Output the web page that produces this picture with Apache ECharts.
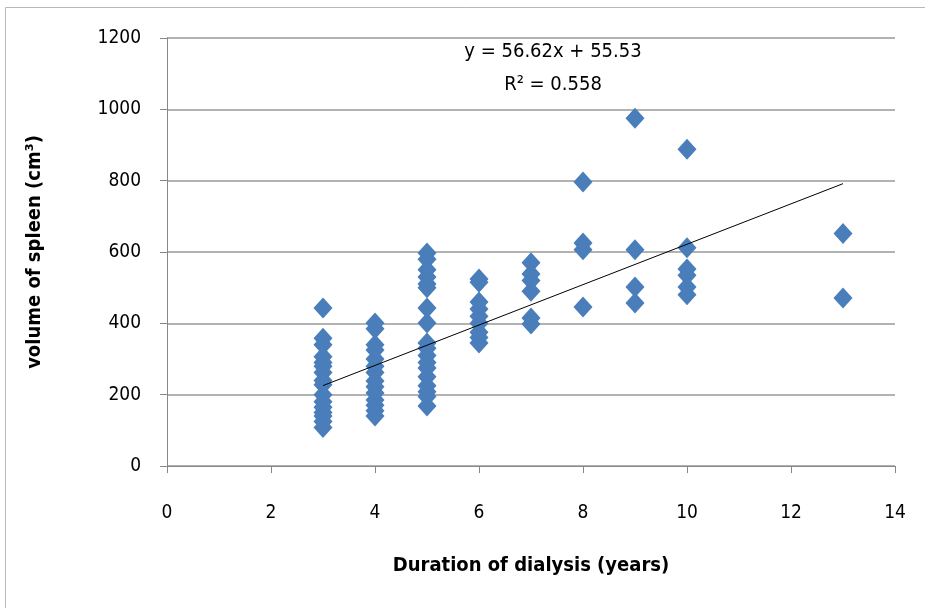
<!DOCTYPE html>
<html>
<head>
<meta charset="utf-8">
<script src="https://cdn.jsdelivr.net/npm/echarts@6/dist/echarts.min.js"></script>
<style>html,body{margin:0;padding:0;background:#fff;}#c{width:925px;height:608px;}</style>
</head>
<body>
<div id="c"></div>
<script>
// Duration of dialysis (years) and spleen volumes (cm³)
var durations = [3, 4, 5, 6, 7, 8, 9, 10, 13];
var volAt3  = [443, 358, 340, 306, 290, 280, 262, 240, 228, 200, 180, 165, 150, 140, 125, 108];
var volAt4  = [401, 385, 340, 325, 300, 280, 262, 238, 222, 205, 185, 170, 155, 140];
var volAt5  = [597, 580, 550, 530, 510, 500, 443, 401, 345, 330, 310, 290, 275, 250, 225, 208, 195, 168];
var volAt6  = [524, 515, 460, 440, 420, 400, 375, 360, 345];
var volAt7  = [570, 538, 520, 490, 415, 398];
var volAt8  = [796, 625, 606, 446];
var volAt9  = [975, 606, 502, 457];
var volAt10 = [888, 612, 552, 535, 502, 480];
var volAt13 = [652, 471];
var volumes = [volAt3, volAt4, volAt5, volAt6, volAt7, volAt8, volAt9, volAt10, volAt13];

// Trend line (from the chart's equation)
var slope = 56.62, intercept = 55.53, rSquared = 0.558;
var xTicks = [0, 2, 4, 6, 8, 10, 12, 14];
var yTicks = [0, 200, 400, 600, 800, 1000, 1200];

var points = [];
durations.forEach(function (d, i) {
  volumes[i].forEach(function (v) { points.push([d, v]); });
});
var xMin = Math.min.apply(null, durations), xMax = Math.max.apply(null, durations);
var trend = [[xMin, slope * xMin + intercept], [xMax, slope * xMax + intercept]];

var font = '"DejaVu Sans Condensed", "Liberation Sans Narrow", "Liberation Sans", sans-serif';
var chart = echarts.init(document.getElementById('c'), null, {renderer: 'canvas'});
chart.setOption({
  animation: false,
  backgroundColor: '#fff',
  grid: {left: 167, right: 30, top: 38, bottom: 142},
  graphic: [
    {type: 'rect', shape: {x: 5.5, y: 7.5, width: 940, height: 640},
     style: {fill: 'none', stroke: '#b8b8b8', lineWidth: 1}, silent: true, z: -1},
    {type: 'text', style: {text: 'y = ' + slope + 'x + ' + intercept, x: 553, y: 52,
      textAlign: 'center', textVerticalAlign: 'middle', font: '20px ' + font, fill: '#000'}},
    {type: 'text', style: {text: 'R² = ' + rSquared, x: 553, y: 85,
      textAlign: 'center', textVerticalAlign: 'middle', font: '20px ' + font, fill: '#000'}}
  ],
  xAxis: {
    type: 'value', min: xTicks[0], max: xTicks[xTicks.length - 1], interval: 2,
    name: 'Duration of dialysis (years)', nameLocation: 'middle', nameGap: 90,
    nameTextStyle: {fontFamily: font, fontSize: 20, fontWeight: 'bold', color: '#000'},
    axisLine: {lineStyle: {color: '#888', width: 1}},
    axisTick: {show: true, length: 7, lineStyle: {color: '#888'}},
    axisLabel: {margin: 38, fontFamily: font, fontSize: 19, color: '#000'},
    splitLine: {show: false}
  },
  yAxis: {
    type: 'value', min: yTicks[0], max: yTicks[yTicks.length - 1], interval: 200,
    name: 'volume of spleen (cm³)', nameLocation: 'middle', nameGap: 122, nameRotate: 90,
    nameTextStyle: {fontFamily: font, fontSize: 20, fontWeight: 'bold', color: '#000'},
    axisLine: {show: true, lineStyle: {color: '#888', width: 1}},
    axisTick: {show: true, length: 7, lineStyle: {color: '#888'}},
    axisLabel: {margin: 26, fontFamily: font, fontSize: 19, color: '#000',
      formatter: function (v) { return String(v); }},
    splitLine: {show: true, lineStyle: {color: '#999', width: 1.5}}
  },
  series: [
    {type: 'scatter', data: points, symbol: 'diamond', symbolSize: [19, 21],
     itemStyle: {color: '#4a7ebb', opacity: 1}, z: 2},
    {type: 'line', data: trend, symbol: 'none', silent: true,
     lineStyle: {color: '#000', width: 1}, z: 3}
  ]
});
</script>
</body>
</html>
